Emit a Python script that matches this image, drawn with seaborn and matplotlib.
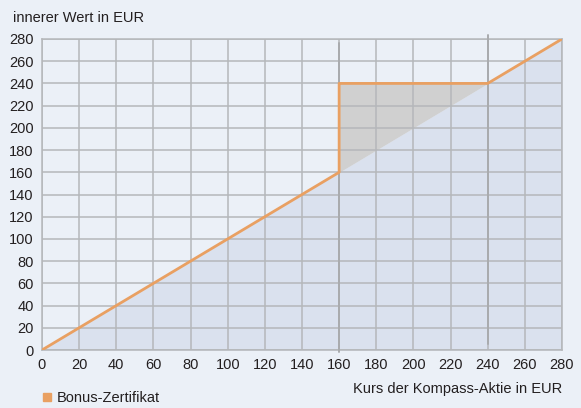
import numpy as np
import pandas as pd
import seaborn as sns
import matplotlib.pyplot as plt

# Bonus-Zertifikat payoff: Kurs -> innerer Wert
kurs = [0, 160, 160, 240, 280]
wert = [0, 160, 240, 240, 280]
diag_x = [0, 280]
diag_y = [0, 280]
ticks = list(range(0, 281, 20))

bg = '#ebf0f7'
orange = '#e9a062'
gridc = '#b5b7ba'

sns.set_theme(style='white')
plt.rcParams['font.family'] = ['Liberation Sans Narrow', 'Liberation Sans', 'DejaVu Sans']

fig = plt.figure(figsize=(5.81, 4.08), dpi=100, facecolor=bg)
ax = fig.add_axes([42 / 581, 1 - 350 / 408, 520 / 581, 311 / 408])
ax.set_facecolor(bg)

# area under the share price line
ax.fill_between(diag_x, diag_y, 0, color='#dae1ee', lw=0, zorder=1)
# bonus zone between certificate and share
bx = np.array([160, 240])
ax.fill_between(bx, np.interp(bx, diag_x, diag_y), [240, 240], color='#d0d0d0', lw=0, zorder=1)

ax.set_xlim(0, 280)
ax.set_ylim(0, 280)
ax.set_xticks(ticks)
ax.set_yticks(ticks)
ax.grid(True, color=gridc, lw=1.1, zorder=2)
ax.set_axisbelow(False)
for s in ax.spines.values():
    s.set_color(gridc)
    s.set_linewidth(1.1)
    s.set_zorder(2)

ax.axvline(160, ymin=-0.008, ymax=0.986, color='#a9abae', lw=1.4, clip_on=False, zorder=3)
ax.axvline(240, ymin=0.018, ymax=1.014, color='#a9abae', lw=1.4, clip_on=False, zorder=3)

df = pd.DataFrame({'kurs': kurs, 'wert': wert})
sns.lineplot(data=df, x='kurs', y='wert', sort=False, estimator=None, color=orange, lw=2.0,
             ax=ax, zorder=5)

ax.tick_params(length=0, labelsize=10.5, colors='#231f20', pad=6)
ax.set_xlabel('')
ax.set_ylabel('')

fig.text(13 / 581, 1 - 18 / 408, 'innerer Wert in EUR', fontsize=10.5, color='#231f20', va='center')
fig.text(562 / 581, 1 - 389 / 408, 'Kurs der Kompass-Aktie in EUR', fontsize=10.5,
         color='#231f20', va='center', ha='right')
fig.patches.append(plt.Rectangle((43 / 581, 1 - 401 / 408), 8 / 581, 8 / 408,
                                 transform=fig.transFigure, color=orange, figure=fig))
fig.text(57 / 581, 1 - 398 / 408, 'Bonus-Zertifikat', fontsize=10.5, color='#231f20', va='center')

fig.savefig('out.png', dpi=100, facecolor=bg)
